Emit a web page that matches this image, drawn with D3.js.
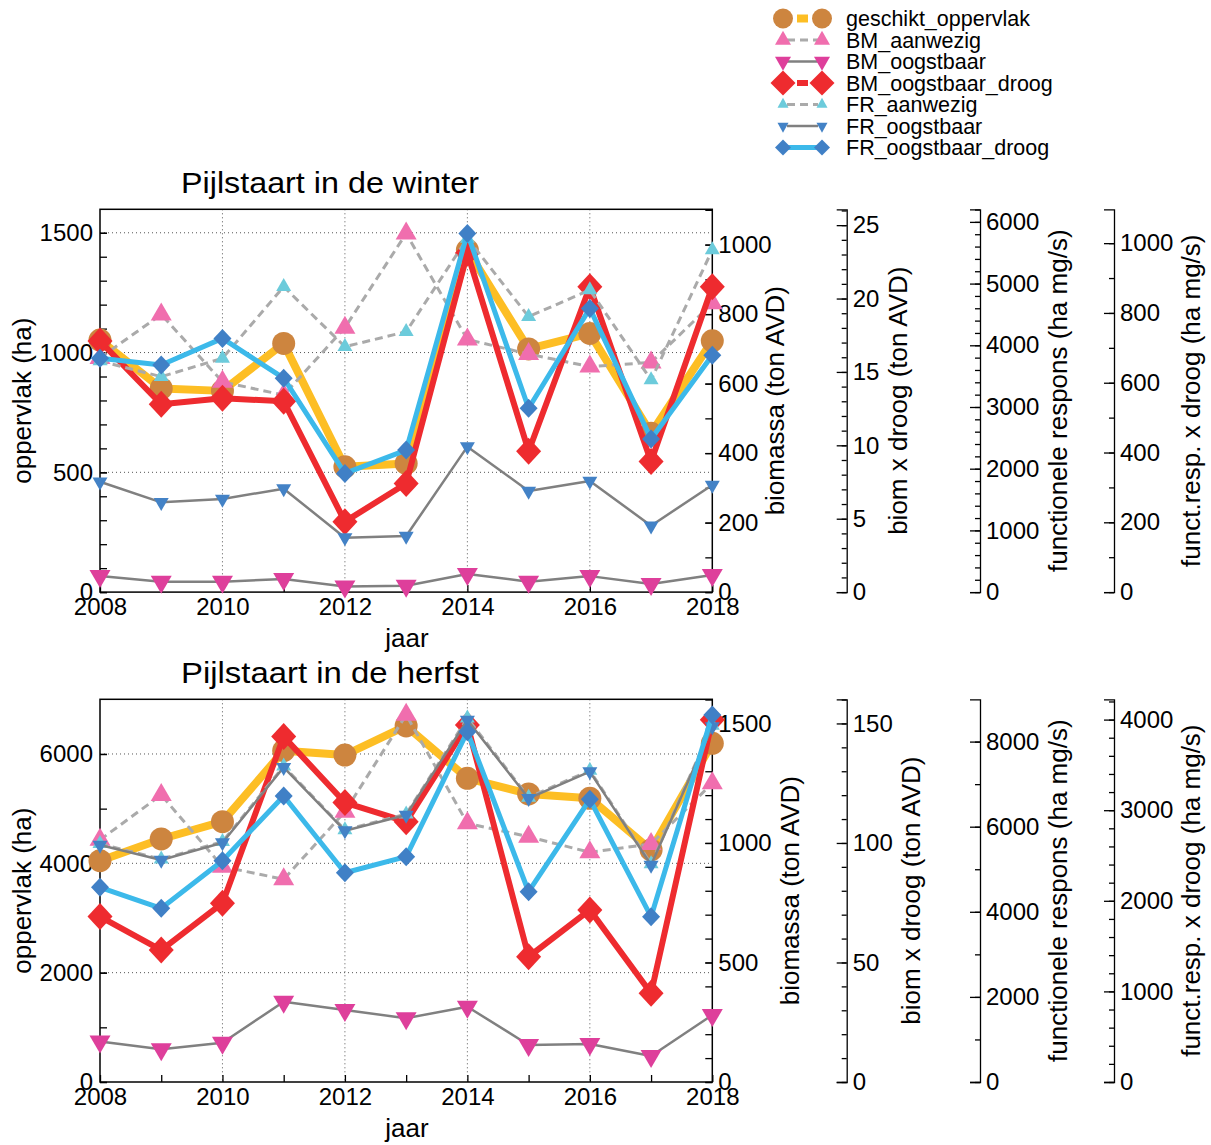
<!DOCTYPE html>
<html lang="nl">
<head>
<meta charset="UTF-8">
<title>Pijlstaart</title>
<style>
  body { margin: 0; background: #fff; }
  text { font-family: "Liberation Sans", Arial, Helvetica, sans-serif; fill: #000; }
</style>
</head>
<body>
<svg width="1211" height="1145"></svg>
<script src="https://d3js.org/d3.v7.min.js"></script>
<script>
// jaren
var years = [2008, 2009, 2010, 2011, 2012, 2013, 2014, 2015, 2016, 2017, 2018];
var yearLabels = [2008, 2010, 2012, 2014, 2016, 2018];

// winter
var winter_geschikt = [1052, 850, 840, 1038, 523, 537, 1428, 1015, 1080, 663, 1049];
var winter_BM_aanwezig = [674, 799, 605, 567, 761, 1032, 727, 685, 649, 661, 831];
var winter_BM_oogstbaar = [46, 30, 30, 38, 16, 18, 52, 30, 46, 23, 49];
var winter_BM_oogstbaar_droog = [17.1, 12.8, 13.2, 13.0, 4.8, 7.4, 23.1, 9.6, 20.8, 8.9, 20.8];
var winter_FR_aanwezig = [3745, 3491, 3789, 4950, 3977, 4220, 5734, 4464, 4896, 3438, 5545];
var winter_FR_oogstbaar = [1789, 1455, 1509, 1676, 882, 909, 2357, 1639, 1801, 1076, 1736];
var winter_FR_oogstbaar_droog = [670, 651, 727, 613, 340, 407, 1028, 527, 813, 439, 679];

// herfst
var herfst_geschikt = [4048, 4445, 4762, 6060, 5981, 6512, 5555, 5268, 5189, 4244, 6195];
var herfst_BM_aanwezig = [1013, 1201, 901, 848, 1131, 1536, 1082, 1026, 961, 996, 1250];
var herfst_BM_oogstbaar = [169, 137, 164, 336, 301, 267, 315, 155, 159, 109, 280];
var herfst_BM_oogstbaar_droog = [69.2, 55.2, 74.8, 144.5, 116.9, 108.9, 149.4, 52.4, 72.0, 37.1, 151.5];
var herfst_FR_aanwezig = [5600, 5235, 5650, 7420, 5925, 6295, 8550, 6690, 7320, 5125, 8380];
var herfst_FR_oogstbaar = [5570, 5217, 5624, 7396, 5906, 6275, 8508, 6667, 7293, 5100, 8350];
var herfst_FR_oogstbaar_droog = [2149, 1917, 2443, 3157, 2310, 2487, 3867, 2100, 3120, 1825, 4051];

// as-ticks
var winter_oppTicks = [0, 500, 1000, 1500];
var winter_biomTicks = [0, 200, 400, 600, 800, 1000];
var winter_droogTicks = [0, 5, 10, 15, 20, 25];
var winter_frTicks = [0, 1000, 2000, 3000, 4000, 5000, 6000];
var winter_frDroogTicks = [0, 200, 400, 600, 800, 1000];
var herfst_oppTicks = [0, 2000, 4000, 6000];
var herfst_biomTicks = [0, 500, 1000, 1500];
var herfst_droogTicks = [0, 50, 100, 150];
var herfst_frTicks = [0, 2000, 4000, 6000, 8000];
var herfst_frDroogTicks = [0, 1000, 2000, 3000, 4000];

var seriesNames = ["geschikt_oppervlak", "BM_aanwezig", "BM_oogstbaar", "BM_oogstbaar_droog",
                   "FR_aanwezig", "FR_oogstbaar", "FR_oogstbaar_droog"];

// stijl per reeks
var styles = {
  geschikt_oppervlak: {axis: "opp", line: "#FDBE24", lw: 8, dash: null, shape: "circle", fill: "#CD853F", w: 23, h: 23, lw2: 20, lh2: 20},
  BM_aanwezig: {axis: "biom", line: "#AAAAAA", lw: 3, dash: "8,5", shape: "up", fill: "#F06EAE", w: 21, h: 18, lw2: 16, lh2: 14},
  BM_oogstbaar: {axis: "biom", line: "#808080", lw: 2.5, dash: null, shape: "down", fill: "#DE3F9B", w: 21, h: 18, lw2: 16, lh2: 14},
  BM_oogstbaar_droog: {axis: "droog", line: "#EE2B2F", lw: 6, dash: null, shape: "diamond", fill: "#EE2B2F", w: 25, h: 27, lw2: 25, lh2: 25},
  FR_aanwezig: {axis: "fr", line: "#AAAAAA", lw: 3, dash: "8,5", shape: "up", fill: "#6CCBDB", w: 15, h: 13, lw2: 11, lh2: 10},
  FR_oogstbaar: {axis: "fr", line: "#808080", lw: 2.5, dash: null, shape: "down", fill: "#4382C6", w: 15, h: 13, lw2: 11, lh2: 10},
  FR_oogstbaar_droog: {axis: "frdroog", line: "#3CB9EA", lw: 5, dash: null, shape: "diamond", fill: "#4080C6", w: 18, h: 19, lw2: 16, lh2: 16}
};

function shapePath(shape, w, h) {
  if (shape === "circle") {
    var r = w / 2;
    return "M" + (-r) + ",0A" + r + "," + r + " 0 1,0 " + r + ",0A" + r + "," + r + " 0 1,0 " + (-r) + ",0Z";
  }
  if (shape === "up") return "M0," + (-2 * h / 3) + "L" + (w / 2) + "," + (h / 3) + "L" + (-w / 2) + "," + (h / 3) + "Z";
  if (shape === "down") return "M0," + (2 * h / 3) + "L" + (w / 2) + "," + (-h / 3) + "L" + (-w / 2) + "," + (-h / 3) + "Z";
  return "M0," + (-h / 2) + "L" + (w / 2) + ",0L0," + (h / 2) + "L" + (-w / 2) + ",0Z";
}

var svg = d3.select("svg");
var left = 100, right = 712.3;
var tickFs = 24, labelFs = 26;

var xScale = d3.scaleLinear().domain([2008, 2018]).range([left, right]);

var panels = [
  {
    title: "Pijlstaart in de winter", top: 209.3, bottom: 592.1,
    data: {
      geschikt_oppervlak: winter_geschikt, BM_aanwezig: winter_BM_aanwezig, BM_oogstbaar: winter_BM_oogstbaar,
      BM_oogstbaar_droog: winter_BM_oogstbaar_droog, FR_aanwezig: winter_FR_aanwezig,
      FR_oogstbaar: winter_FR_oogstbaar, FR_oogstbaar_droog: winter_FR_oogstbaar_droog
    },
    axes: {
      opp: {max: 1598, ticks: winter_oppTicks, minor: 100},
      biom: {max: 1101.6, ticks: winter_biomTicks, minor: 100},
      droog: {max: 26.08, ticks: winter_droogTicks, minor: 1},
      fr: {max: 6204, ticks: winter_frTicks, minor: 200},
      frdroog: {max: 1097, ticks: winter_frDroogTicks, minor: 100}
    },
    labelX: {biom: 775, droog: 898, fr: 1058, frdroog: 1191}
  },
  {
    title: "Pijlstaart in de herfst", top: 699.3, bottom: 1082,
    data: {
      geschikt_oppervlak: herfst_geschikt, BM_aanwezig: herfst_BM_aanwezig, BM_oogstbaar: herfst_BM_oogstbaar,
      BM_oogstbaar_droog: herfst_BM_oogstbaar_droog, FR_aanwezig: herfst_FR_aanwezig,
      FR_oogstbaar: herfst_FR_oogstbaar, FR_oogstbaar_droog: herfst_FR_oogstbaar_droog
    },
    axes: {
      opp: {max: 7000, ticks: herfst_oppTicks, minor: 1000},
      biom: {max: 1601, ticks: herfst_biomTicks, minor: 100},
      droog: {max: 160.1, ticks: herfst_droogTicks, minor: 10},
      fr: {max: 8994, ticks: herfst_frTicks, minor: 1000},
      frdroog: {max: 4224, ticks: herfst_frDroogTicks, minor: 200}
    },
    labelX: {biom: 790, droog: 911, fr: 1058, frdroog: 1191}
  }
];

function styleAxis(g) {
  g.selectAll("text").style("font-size", tickFs + "px");
  g.selectAll("line").attr("stroke", "#000").attr("stroke-width", 1.3);
  g.selectAll("path.domain").attr("stroke", "#000").attr("stroke-width", 1.3);
}

panels.forEach(function(p) {
  var scales = {};
  Object.keys(p.axes).forEach(function(k) {
    scales[k] = d3.scaleLinear().domain([0, p.axes[k].max]).range([p.bottom, p.top]);
  });
  var g = svg.append("g");
  var midY = (p.top + p.bottom) / 2;

  // raster
  var grid = g.append("g");
  grid.selectAll(".hg").data(p.axes.opp.ticks.filter(function(d) { return d > 0; }))
    .enter().append("line")
    .attr("x1", left).attr("x2", right)
    .attr("y1", function(d) { return scales.opp(d); }).attr("y2", function(d) { return scales.opp(d); })
    .attr("stroke", "#555").attr("stroke-width", 1).attr("stroke-dasharray", "1,3");
  grid.selectAll(".vg").data(yearLabels.slice(1, -1))
    .enter().append("line")
    .attr("y1", p.top).attr("y2", p.bottom)
    .attr("x1", function(d) { return xScale(d); }).attr("x2", function(d) { return xScale(d); })
    .attr("stroke", "#555").attr("stroke-width", 1).attr("stroke-dasharray", "1,3");

  // linker as
  var oppMinor = d3.range(0, p.axes.opp.max, p.axes.opp.minor);
  g.append("g").attr("transform", "translate(" + left + ",0)")
    .call(d3.axisLeft(scales.opp).tickValues(oppMinor).tickSize(-7).tickFormat(""))
    .call(function(a) { a.select(".domain").remove(); styleAxis(a); });
  g.append("g").attr("transform", "translate(" + left + ",0)")
    .call(d3.axisLeft(scales.opp).tickValues(p.axes.opp.ticks).tickSize(-7).tickPadding(7).tickFormat(d3.format("d")))
    .call(function(a) { a.select(".domain").remove(); styleAxis(a); });

  // biomassa as (rechts van het plotvlak)
  var biomMinor = d3.range(0, p.axes.biom.max, p.axes.biom.minor);
  g.append("g").attr("transform", "translate(" + right + ",0)")
    .call(d3.axisRight(scales.biom).tickValues(biomMinor).tickSize(-7).tickFormat(""))
    .call(function(a) { a.select(".domain").remove(); styleAxis(a); });
  g.append("g").attr("transform", "translate(" + right + ",0)")
    .call(d3.axisRight(scales.biom).tickValues(p.axes.biom.ticks).tickSize(-7).tickPadding(6).tickFormat(d3.format("d")))
    .call(function(a) { a.select(".domain").remove(); styleAxis(a); });

  // x as
  g.append("g").attr("transform", "translate(0," + p.bottom + ")")
    .call(d3.axisBottom(xScale).tickValues(years).tickSize(-7).tickPadding(6)
      .tickFormat(function(d) { return yearLabels.indexOf(d) >= 0 ? d : ""; }))
    .call(function(a) { a.select(".domain").remove(); styleAxis(a); });

  // losse assen
  var extra = [{k: "droog", x: 846.7}, {k: "fr", x: 980}, {k: "frdroog", x: 1114}];
  extra.forEach(function(e) {
    var ax = p.axes[e.k];
    g.append("g").attr("transform", "translate(" + e.x + ",0)")
      .call(d3.axisRight(scales[e.k]).tickValues(d3.range(0, ax.max, ax.minor)).tickSize(-5).tickFormat(""))
      .call(function(a) { a.select(".domain").remove(); styleAxis(a); });
    g.append("g").attr("transform", "translate(" + e.x + ",0)")
      .call(d3.axisRight(scales[e.k]).tickValues(ax.ticks).tickSize(-10).tickSizeOuter(-10).tickPadding(6).tickFormat(d3.format("d")))
      .call(styleAxis);
  });

  // kader
  g.append("rect").attr("x", left).attr("y", p.top)
    .attr("width", right - left).attr("height", p.bottom - p.top)
    .attr("fill", "none").attr("stroke", "#000").attr("stroke-width", 1.5);

  // reeksen
  seriesNames.forEach(function(name) {
    var st = styles[name];
    var vals = p.data[name];
    var ys = scales[st.axis];
    var line = d3.line().x(function(d, i) { return xScale(years[i]); }).y(function(d) { return ys(d); });
    g.append("path").datum(vals)
      .attr("d", line).attr("fill", "none")
      .attr("stroke", st.line).attr("stroke-width", st.lw)
      .attr("stroke-dasharray", st.dash)
      .attr("stroke-linejoin", "round");
    g.selectAll(null).data(vals).enter().append("path")
      .attr("d", shapePath(st.shape, st.w, st.h))
      .attr("transform", function(d, i) { return "translate(" + xScale(years[i]) + "," + ys(d) + ")"; })
      .attr("fill", st.fill);
  });

  // teksten
  g.append("text").attr("x", 181).attr("y", p.top - 16)
    .attr("textLength", 298).attr("lengthAdjust", "spacingAndGlyphs")
    .style("font-size", "30px").text(p.title);
  g.append("text").attr("x", 407).attr("y", p.bottom + 46).attr("dy", "0.35em")
    .attr("text-anchor", "middle").style("font-size", "26px").text("jaar");
  function yLabel(x, txt) {
    g.append("text").attr("transform", "translate(" + x + "," + midY + ") rotate(-90)")
      .attr("dy", "0.35em").attr("text-anchor", "middle").style("font-size", labelFs + "px").text(txt);
  }
  yLabel(22, "oppervlak (ha)");
  yLabel(p.labelX.biom, "biomassa (ton AVD)");
  yLabel(p.labelX.droog, "biom x droog (ton AVD)");
  yLabel(p.labelX.fr, "functionele respons (ha mg/s)");
  yLabel(p.labelX.frdroog, "funct.resp. x droog (ha mg/s)");
});

// legenda
var legend = svg.append("g");
var legY = d3.scaleLinear().domain([0, 6]).range([18.5, 147.5]);
seriesNames.forEach(function(name, i) {
  var st = styles[name];
  var y = legY(i);
  var thick = st.lw >= 6;
  legend.append("line")
    .attr("x1", thick ? 797 : 787).attr("x2", thick ? 808 : 818)
    .attr("y1", y).attr("y2", y)
    .attr("stroke", st.line).attr("stroke-width", st.lw)
    .attr("stroke-dasharray", st.dash);
  [783, 822].forEach(function(x) {
    legend.append("path").attr("d", shapePath(st.shape, st.lw2, st.lh2))
      .attr("transform", "translate(" + x + "," + y + ")").attr("fill", st.fill);
  });
  legend.append("text").attr("x", 846).attr("y", y).attr("dy", "0.35em")
    .style("font-size", "21.5px").text(name);
});
</script>
</body>
</html>
